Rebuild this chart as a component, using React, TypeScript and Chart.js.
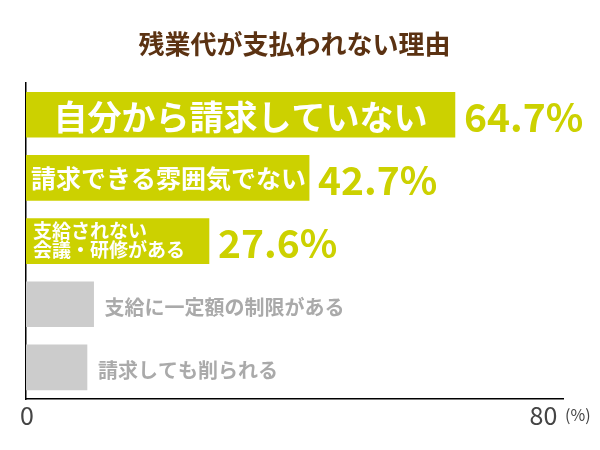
import React, { useEffect, useRef } from "react";
import { Chart, registerables } from "chart.js";

Chart.register(...registerables);

const categories = [
  "自分から請求していない",
  "請求できる雰囲気でない",
  "支給されない\n会議・研修がある",
  "支給に一定額の制限がある",
  "請求しても削られる",
];
const values = [64.7, 42.7, 27.6, 10.2, 9.2];
const valueLabels = ["64.7%", "42.7%", "27.6%", "", ""];
const highlighted = [true, true, true, false, false];
const xTicks = [0, 80];
const unitLabel = "(%)";
const title = "残業代が支払われない理由";

const FONT = '"Noto Sans CJK JP", "Noto Sans", sans-serif';
const GREEN = "#CCD100";
const GRAY_BAR = "#CCCCCC";
const GRAY_TEXT = "#AAAAAA";

const labelPlugin = {
  id: "barLabels",
  afterDatasetsDraw(chart: Chart) {
    const ctx = chart.ctx;
    const meta = chart.getDatasetMeta(0);
    ctx.save();
    meta.data.forEach((bar: any, i: number) => {
      const { x, y, base } = bar.getProps(["x", "y", "base"], true);
      const lines = categories[i].split("\n");
      ctx.textBaseline = "middle";
      if (highlighted[i]) {
        ctx.fillStyle = "#FFFFFF";
        if (i === 0) {
          ctx.font = `bold 34px ${FONT}`;
          ctx.textAlign = "center";
          ctx.fillText(lines[0], (base + x) / 2, y + 2);
        } else if (lines.length === 1) {
          ctx.font = `bold 25px ${FONT}`;
          ctx.textAlign = "left";
          ctx.fillText(lines[0], base + 5, y + 1);
        } else {
          ctx.font = `bold 19px ${FONT}`;
          ctx.textAlign = "left";
          lines.forEach((line, k) => {
            ctx.fillText(line, base + 7, y - 10 + k * 19);
          });
        }
        ctx.fillStyle = GREEN;
        ctx.font = `bold 39px ${FONT}`;
        ctx.textAlign = "left";
        ctx.fillText(valueLabels[i], x + 9, y + 2);
      } else {
        ctx.fillStyle = GRAY_TEXT;
        ctx.font = `bold 20px ${FONT}`;
        ctx.textAlign = "left";
        ctx.fillText(lines[0], x + 11, y + 3);
      }
    });
    ctx.restore();
  },
  afterDraw(chart: Chart) {
    const ctx = chart.ctx;
    const xs = chart.scales.x;
    const yPos = chart.chartArea.bottom + 16;
    ctx.save();
    ctx.fillStyle = "#444444";
    ctx.textBaseline = "middle";
    ctx.font = `25px ${FONT}`;
    xTicks.forEach((t, i) => {
      const px = xs.getPixelForValue(t);
      ctx.textAlign = i === 0 ? "center" : "right";
      ctx.fillText(String(t), px + 1, yPos);
    });
    ctx.font = `16px ${FONT}`;
    ctx.textAlign = "left";
    ctx.fillText(unitLabel, chart.chartArea.right + 2, yPos);
    ctx.restore();
  },
};

export default function App() {
  const canvasRef = useRef<HTMLCanvasElement | null>(null);

  useEffect(() => {
    if (!canvasRef.current) return;
    const chart = new Chart(canvasRef.current, {
      type: "bar",
      data: {
        labels: categories,
        datasets: [
          {
            data: values,
            backgroundColor: highlighted.map((h) => (h ? GREEN : GRAY_BAR)),
            barThickness: 45,
            borderWidth: 0,
          },
        ],
      },
      options: {
        indexAxis: "y",
        animation: false,
        responsive: false,
        layout: { padding: { left: 26, right: 37, top: 0, bottom: 51 } },
        plugins: {
          legend: { display: false },
          tooltip: { enabled: false },
          title: {
            display: true,
            text: title,
            color: "#5B3212",
            font: { family: FONT, size: 26, weight: "bold", lineHeight: 1.2 },
            padding: { top: 29, bottom: 23 },
          },
        },
        scales: {
          x: {
            min: 0,
            max: 81,
            grid: { display: false, drawTicks: false },
            ticks: { display: false },
            border: { display: true, color: "#000000", width: 1.5 },
          },
          y: {
            grid: { display: false, drawTicks: false },
            ticks: { display: false },
            border: { display: true, color: "#000000", width: 1.5 },
          },
        },
      },
      plugins: [labelPlugin],
    });
    return () => chart.destroy();
  }, []);

  return (
    <div
      style={{
        position: "fixed",
        left: 0,
        top: 0,
        width: 600,
        height: 450,
        background: "#ffffff",
      }}
    >
      <canvas ref={canvasRef} width={600} height={450} />
    </div>
  );
}
